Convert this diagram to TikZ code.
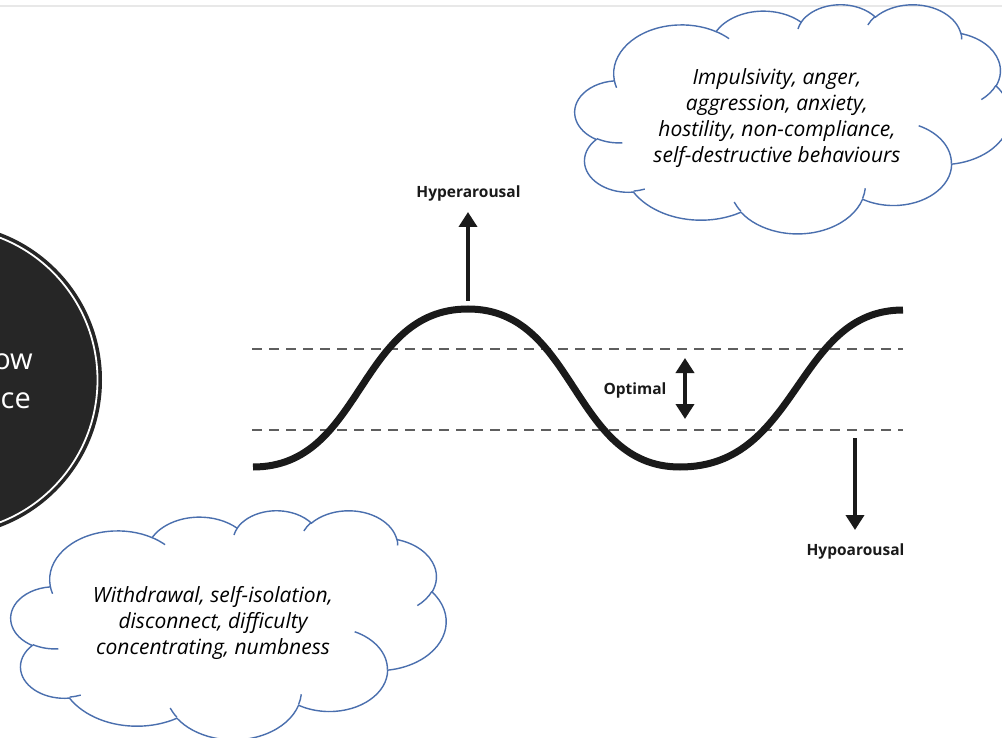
\documentclass[tikz,border=0pt]{standalone}
\usepackage{fontspec}
\setmainfont{Open Sans}
\usepackage{tikz}
\usetikzlibrary{arrows.meta,calc,positioning}
\definecolor{discdark}{HTML}{262626}
\definecolor{inkblack}{HTML}{1A1A1A}
\definecolor{bandgray}{HTML}{5E5E5E}
\definecolor{cloudblue}{HTML}{4A6FAE}
\definecolor{rulegray}{HTML}{E8E8E8}
% one puff of the cloud outline: radii, start angle and sweep measured as seen on the page
\newcommand{\cloudarc}[4]{arc[x radius=#1, y radius=#2, start angle={cpar(#1,#2,#3)},
  delta angle={mod(cpar(#1,#2,#3+#4)-cpar(#1,#2,#3)+720,360)}]}
% cloud in a 432 x 432 box, outline first, then the short inner strokes
\newcommand{\cloudoutline}{%
  \draw[cloudline] (39.00,143.70)
    \cloudarc{67.53}{91.90}{-190.4875}{123.7805}
    \cloudarc{53.33}{72.67}{-144.1024}{89.9452}
    \cloudarc{43.65}{59.45}{-145.8079}{99.7230}
    \cloudarc{48.57}{65.95}{-130.9861}{117.2417}
    \cloudarc{53.33}{72.73}{-78.7089}{109.0269}
    \cloudarc{67.75}{92.20}{-46.2673}{130.2690}
    \cloudarc{57.85}{78.67}{0.6250}{114.0333}
    \cloudarc{67.52}{92.15}{22.4516}{115.1726}
    \cloudarc{77.20}{105.43}{66.2426}{75.7110}
    \cloudarc{43.60}{59.18}{-274.9421}{146.7356}
    \cloudarc{43.45}{59.45}{-246.8285}{152.5189}
    -- cycle;
  \draw[cloudline]
    (46.93,261.77) \cloudarc{43.45}{59.45}{86.7420}{26.4295}
    (69.28,348.99) \cloudarc{43.60}{59.18}{73.6105}{11.4475}
    (164.78,390.90) \cloudarc{67.52}{92.15}{137.6242}{14.0811}
    (288.27,347.51) \cloudarc{67.52}{92.15}{6.4533}{15.9984}
    (341.29,229.54) \cloudarc{57.85}{78.67}{-70.2924}{70.9174}
    (417.98,153.54) \cloudarc{53.33}{72.73}{30.3180}{27.7515}
    (383.24,54.26) \cloudarc{48.57}{65.95}{-13.7443}{14.8589}
    (290.78,39.52) \cloudarc{48.57}{65.95}{-149.1815}{18.1954}
    (221.41,47.20) \cloudarc{43.65}{59.45}{-163.4943}{17.6864}
    (140.00,51.92) \cloudarc{67.53}{91.90}{-66.7070}{12.3194}
    (41.27,157.89) \cloudarc{67.53}{91.90}{157.6544}{11.8582};
}
\tikzset{
  wave/.style={inkblack, line width=7pt},
  bandline/.style={bandgray, line width=2pt, dash pattern=on 10pt off 7pt},
  bigarrow/.style={inkblack, line width=4.4pt, -{Triangle[width=18pt,length=15pt]}},
  dblarrow/.style={inkblack, line width=4.4pt, {Triangle[width=18pt,length=15pt]}-{Triangle[width=18pt,length=15pt]}},
  arousallbl/.style={inkblack, inner sep=0pt, font=\fontsize{15.5}{18}\selectfont\bfseries},
  cloudline/.style={cloudblue, line width=1.4pt},
  cloudtext/.style={black, align=center, inner sep=0pt, font=\fontsize{21}{26}\selectfont\itshape},
  disc/.style={circle, fill=discdark, minimum size=314pt, inner sep=0pt},
  disctext/.style={white, inner sep=0pt, font=\fontsize{29}{39}\selectfont},
  topline/.style={rulegray, line width=2.5pt}
}

\begin{document}
\begin{tikzpicture}[x=1pt, y=-1pt,
  declare function={cpar(\rx,\ry,\ang)=atan2(\rx*sin(\ang),\ry*cos(\ang));}]
  \useasboundingbox (0,0) rectangle (1002,738);
  \clip (0,0) rectangle (1002,738);
  \fill[white] (0,0) rectangle (1002,738);
  \draw[topline] (0,6) -- (1002,6);

  \node[disc] (window) at (-55,380) {};
  \draw[white, line width=1.8pt] (window.center) circle[radius=152.5];
  \node[disctext, anchor=base east] (windowtop) at (33,369) {ow};
  \node[disctext, anchor=base east] (windowbot) at (31,408) {ce};

  \coordinate (upperL) at (252,349);
  \coordinate (upperR) at (903,349);
  \coordinate (lowerL) at (252,430);
  \coordinate (lowerR) at (903,430);
  \draw[bandline] (upperL) -- (upperR);
  \draw[bandline] (lowerL) -- (lowerR);

  \draw[wave] (253,467) .. controls (364,467) and (357,309) .. (468,309)
    .. controls (577,309) and (571,467) .. (680,467)
    .. controls (800,467) and (795,310) .. (903,310);

  \node[arousallbl] (hyperlbl) at (468.5,193) {Hyperarousal};
  \node[arousallbl] (optlbl) at (635,390) {Optimal};
  \node[arousallbl] (hypolbl) at (855.5,551) {Hypoarousal};
  \coordinate (peak) at (468,301);
  \coordinate (hypertip) at (468,212);
  \coordinate (opttop) at (685,358);
  \coordinate (optbot) at (685,419);
  \coordinate (hypofoot) at (855,438);
  \coordinate (hypotip) at (855,530);
  \draw[bigarrow] (peak) -- (hypertip);
  \draw[dblarrow] (optbot) -- (opttop);
  \draw[bigarrow] (hypofoot) -- (hypotip);

  \begin{scope}[shift={(575,4)}, x=1.007pt, y=-0.5303pt]
    \cloudoutline
  \end{scope}
  \node[cloudtext] (hypertext) at (777,118)
    {Impulsivity, anger,\\aggression, anxiety,\\hostility, non-compliance,\\self-destructive behaviours};

  \begin{scope}[shift={(11,510)}, x=1.007pt, y=-0.5303pt]
    \cloudoutline
  \end{scope}
  \node[cloudtext] (hypotext) at (213,623)
    {Withdrawal, self-isolation,\\disconnect, difficulty\\concentrating, numbness};
\end{tikzpicture}
\end{document}
